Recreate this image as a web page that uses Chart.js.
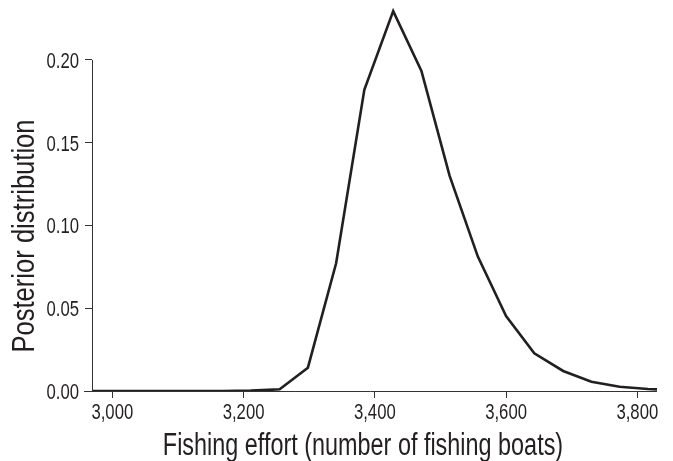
<!DOCTYPE html>
<html>
<head>
<meta charset="utf-8">
<script src="https://cdn.jsdelivr.net/npm/chart.js@4.4.1/dist/chart.umd.min.js"></script>
<style>
  html, body { margin: 0; padding: 0; background: #ffffff; }
  #wrap { width: 673px; height: 461px; position: relative; }
</style>
</head>
<body>
<div id="wrap"><canvas id="c" width="673" height="461"></canvas></div>
<script>
// Fishing effort (boats) and posterior probability of each effort bin
const effort = [2952, 2995, 3039, 3082, 3125, 3168, 3211, 3255, 3298, 3341, 3384,
                3428, 3471, 3514, 3557, 3600, 3643, 3687, 3730, 3773, 3816, 3859];
const posterior = [0, 0, 0, 0, 0, 0, 0.0002, 0.001, 0.0141, 0.0772, 0.182,
                   0.2295, 0.1934, 0.130, 0.0812, 0.0453, 0.0228, 0.0121, 0.0056, 0.0026, 0.0012, 0.0005];

const xTicks = [3000, 3200, 3400, 3600, 3800];
const yTicks = [0, 0.05, 0.10, 0.15, 0.20];

const xTitle = 'Fishing effort (number of fishing boats)';
const yTitle = 'Posterior distribution';

const FONT = '"Liberation Sans", Arial, sans-serif';
const INK = '#231f20';
const AXIS = '#333333';

// Draws text squeezed horizontally to mimic a condensed face
function condensedText(ctx, text, x, y, size, squeeze, align, baseline, angle) {
  ctx.save();
  ctx.translate(x, y);
  if (angle) ctx.rotate(angle);
  ctx.scale(squeeze, 1);
  ctx.font = size + 'px ' + FONT;
  ctx.textAlign = align;
  ctx.textBaseline = baseline;
  ctx.fillStyle = INK;
  ctx.fillText(text, 0, 0);
  ctx.restore();
}

// Offset axis lines, tick labels and axis titles
const axesPlugin = {
  id: 'offsetAxes',
  afterDraw(chart) {
    const { ctx, chartArea, scales } = chart;
    const x = scales.x, y = scales.y;
    ctx.save();
    ctx.strokeStyle = AXIS;
    ctx.lineWidth = 1;
    ctx.beginPath();
    const yl = Math.round(chartArea.left) + 0.5;
    ctx.moveTo(yl, y.getPixelForValue(yTicks[yTicks.length - 1]));
    ctx.lineTo(yl, y.getPixelForValue(0));
    const xb = Math.round(chartArea.bottom) + 0.5;
    ctx.moveTo(chartArea.left - 8, xb);
    ctx.lineTo(chartArea.right, xb);
    ctx.stroke();
    ctx.restore();

    x.ticks.forEach(t => {
      condensedText(ctx, t.value.toLocaleString('en-US'), x.getPixelForValue(t.value),
                    chartArea.bottom + 28, 22, 0.76, 'center', 'alphabetic');
    });
    y.ticks.forEach(t => {
      condensedText(ctx, t.value.toFixed(2), chartArea.left - 13, y.getPixelForValue(t.value) + 8,
                    22, 0.76, 'right', 'alphabetic');
    });

    condensedText(ctx, xTitle, 363, 455, 31, 0.755, 'center', 'alphabetic');
    condensedText(ctx, yTitle, 34, 236, 31, 0.825, 'center', 'alphabetic', -Math.PI / 2);
  }
};

new Chart(document.getElementById('c'), {
  type: 'line',
  data: {
    datasets: [{
      data: effort.map((e, i) => ({ x: e, y: posterior[i] })),
      borderColor: INK,
      borderWidth: 2.6,
      pointRadius: 0,
      tension: 0,
      fill: false
    }]
  },
  options: {
    responsive: false,
    animation: false,
    events: [],
    layout: { padding: { top: 7, right: 16, left: 0, bottom: 0 } },
    plugins: { legend: { display: false }, tooltip: { enabled: false } },
    scales: {
      x: {
        type: 'linear',
        min: 2969,
        max: 3830,
        afterBuildTicks: s => { s.ticks = xTicks.map(v => ({ value: v })); },
        afterFit: s => { s.height = 70; },
        border: { display: false },
        grid: { drawOnChartArea: false, drawTicks: true, tickLength: 7, color: AXIS },
        ticks: { display: false }
      },
      y: {
        min: 0,
        max: 0.232,
        afterBuildTicks: s => { s.ticks = yTicks.map(v => ({ value: v })); },
        afterFit: s => { s.width = 92; },
        border: { display: false },
        grid: { drawOnChartArea: false, drawTicks: true, tickLength: 7, color: AXIS },
        ticks: { display: false }
      }
    }
  },
  plugins: [axesPlugin]
});
</script>
</body>
</html>
